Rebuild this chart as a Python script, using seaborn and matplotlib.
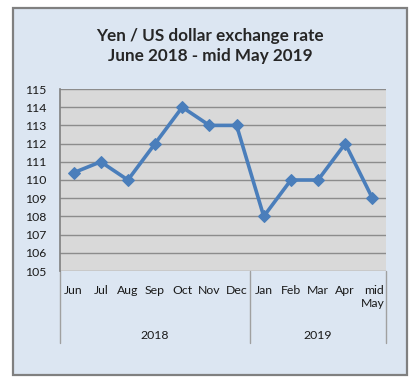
import numpy as np
import pandas as pd
import seaborn as sns
import matplotlib
import matplotlib.pyplot as plt
from matplotlib.patches import Rectangle
from matplotlib.transforms import blended_transform_factory

# data
months = ['Jun', 'Jul', 'Aug', 'Sep', 'Oct', 'Nov', 'Dec',
          'Jan', 'Feb', 'Mar', 'Apr', 'mid\nMay']
years = ['2018'] * 7 + ['2019'] * 5
rate = [110.4, 111, 110, 112, 114, 113, 113, 108, 110, 110, 112, 109]
yticks = list(range(105, 116))

df = pd.DataFrame({'month': months, 'year': years, 'rate': rate})
df['pos'] = np.arange(len(df))

sns.set_style('white')
plt.rcParams['font.family'] = ['Lato', 'DejaVu Sans']

W, H = 417, 389
fig = plt.figure(figsize=(W / 100, H / 100), dpi=100, facecolor='white')

# outer chart frame
fig.patches.append(Rectangle((13 / W, 1 - 375 / H), 394 / W, 367 / H,
                             transform=fig.transFigure, facecolor='#DCE6F2',
                             edgecolor='#808080', linewidth=1.6, zorder=-5))

ax = fig.add_axes([60 / W, 1 - 271 / H, 326 / W, 182 / H])
ax.set_facecolor('#D9D9D9')

sns.lineplot(data=df, x='pos', y='rate', ax=ax, color='#4A7EBB',
             linewidth=2.6, marker='D', markersize=6,
             markeredgecolor='#4A7EBB', zorder=3)

ax.set_xlim(-0.5, len(df) - 0.5)
ax.set_ylim(yticks[0], yticks[-1])
ax.set_yticks(yticks)
ax.yaxis.grid(True, color='#8C8C8C', linewidth=1)
ax.set_axisbelow(True)
ax.tick_params(axis='y', length=0, pad=10, labelsize=8.8, labelcolor='#1a1a1a')
ax.set_xticks(df['pos'])
ax.set_xticklabels(df['month'], fontsize=8.8, color='#1a1a1a',
                   multialignment='right', va='top')
ax.tick_params(axis='x', length=0, pad=10)
ax.set_xlabel('')
ax.set_ylabel('')
for s in ['top', 'right', 'bottom']:
    ax.spines[s].set_visible(False)
ax.spines['left'].set_color('#808080')
ax.spines['left'].set_linewidth(1.2)

# year group labels and separators
tr = blended_transform_factory(ax.transData, ax.transAxes)
groups = df.groupby('year')['pos'].agg(['min', 'max'])
edges = [-0.5]
for yr, row in groups.iterrows():
    ax.text((row['min'] + row['max']) / 2, -0.352, yr, transform=tr,
            ha='center', va='center', fontsize=8.8, color='#1a1a1a')
    edges.append(row['max'] + 0.5)
for e in edges:
    ax.plot([e, e], [0, -0.396], transform=tr, color='#A0A0A0',
            linewidth=1, clip_on=False)

fig.text(0.5 * (13 + 407) / W, 1 - 36 / H, 'Yen / US dollar exchange rate',
         ha='center', va='center', fontsize=12.3, fontweight='bold')
fig.text(0.5 * (13 + 407) / W, 1 - 56 / H, 'June 2018 - mid May 2019',
         ha='center', va='center', fontsize=12.3, fontweight='bold')

fig.savefig('out.png', dpi=100, facecolor='white')
